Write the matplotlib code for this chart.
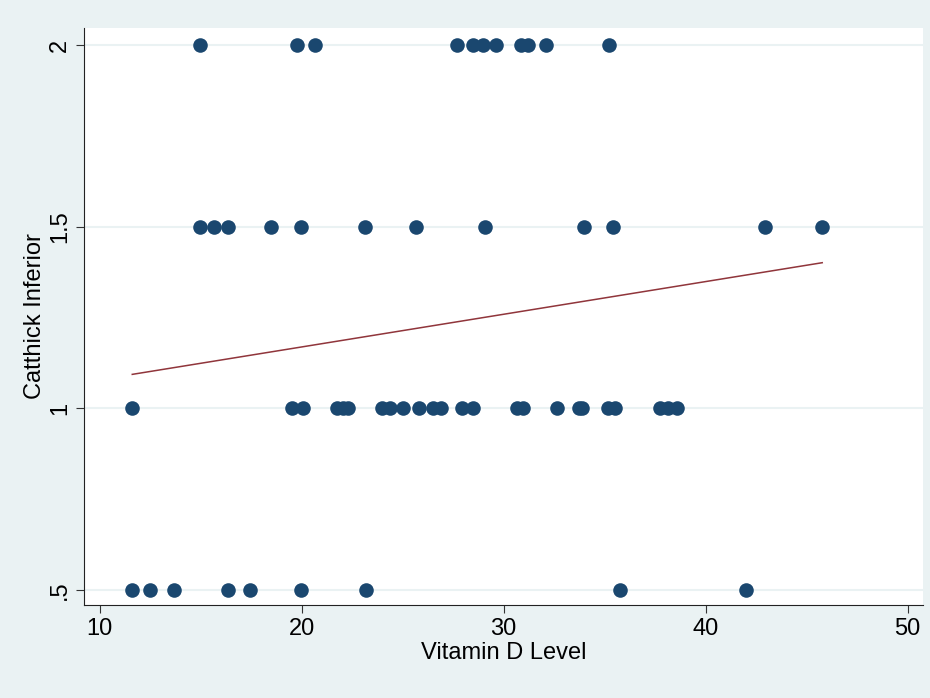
import numpy as np
from matplotlib import pyplot as plt

# Catthick score rows and the vitamin D levels
vitd_2 = [14.97, 19.77, 20.66, 27.7, 28.5, 29.0, 29.6, 30.85, 31.2, 32.1, 35.2]
vitd_15 = [14.97, 15.69, 16.36, 18.47, 19.95, 23.15, 25.67, 29.08, 33.96,
           35.4, 42.93, 45.77]
vitd_1 = [11.62, 19.55, 20.05, 21.74, 22.03, 22.31, 24.0, 24.4, 25.0, 25.8,
          26.5, 26.9, 27.93, 28.5, 30.65, 30.98, 32.63, 33.75, 33.9, 35.18,
          35.51, 37.74, 38.15, 38.57]
vitd_05 = [11.62, 12.48, 13.71, 16.37, 17.45, 19.99, 23.19, 35.75, 41.98]

# fitted line as drawn in the reference
fit_slope = 0.009
fit_intercept = 0.989

x_ticks = [10, 20, 30, 40, 50]
y_ticks = [0.5, 1, 1.5, 2]
y_tick_labels = [".5", "1", "1.5", "2"]

x = np.array(vitd_2 + vitd_15 + vitd_1 + vitd_05)
y = np.array([2] * len(vitd_2) + [1.5] * len(vitd_15)
             + [1] * len(vitd_1) + [0.5] * len(vitd_05))

plt.rcParams['font.family'] = ['Liberation Sans Narrow', 'Liberation Sans',
                               'DejaVu Sans']

bg = "#eaf2f3"
fig = plt.figure(figsize=(9.3, 6.98), dpi=100, facecolor=bg)
ax = fig.add_axes([0.0903, 0.1332, 0.9022, 0.8267])
ax.set_facecolor("white")

for t in y_ticks:
    ax.axhline(t, color=bg, linewidth=1.5, zorder=0)

ax.scatter(x, y, s=110, color="#1a476f", zorder=3, linewidths=0)

xs = np.array([x.min(), x.max()])
ax.plot(xs, fit_intercept + fit_slope * xs, color="#90353b", linewidth=1.1,
        zorder=2)

ax.set_xlim(9.23, 50.76)
ax.set_ylim(0.4587, 2.047)
ax.set_xticks(x_ticks)
ax.set_yticks(y_ticks)
ax.set_yticklabels(y_tick_labels, rotation=90, va="center")
ax.tick_params(labelsize=17, length=6, color="#333333")

for side in ["top", "right"]:
    ax.spines[side].set_visible(False)
for side in ["left", "bottom"]:
    ax.spines[side].set_color("#222222")

ax.set_xlabel("Vitamin D Level", fontsize=17, labelpad=1)
ax.set_ylabel("Catthick Inferior", fontsize=17, labelpad=2)

fig.savefig("out.png", dpi=100, facecolor=bg)
